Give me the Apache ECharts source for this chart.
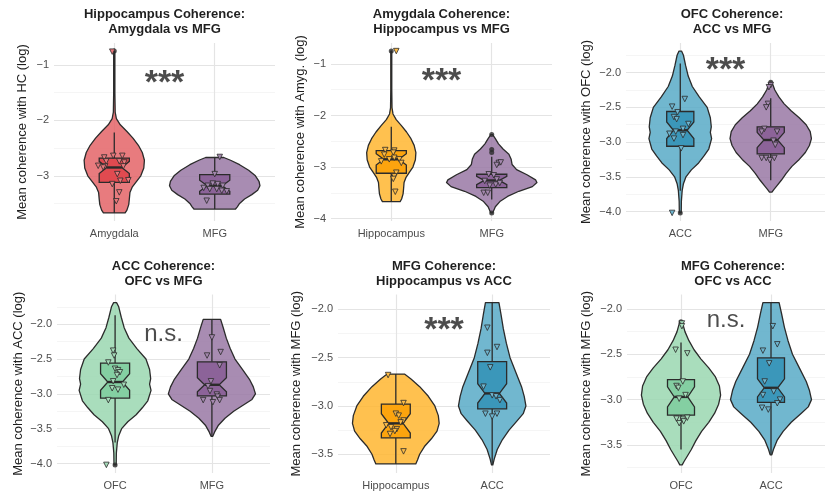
<!DOCTYPE html>
<html><head><meta charset="utf-8">
<script src="https://cdn.jsdelivr.net/npm/echarts@6/dist/echarts.min.js"></script>
<style>html,body{margin:0;padding:0;background:#fff}#c{width:825px;height:492px}</style>
</head><body><div id="c"></div>
<script>
// ---------------- DATA ----------------
const titles = [
  'Hippocampus Coherence:\nAmygdala vs MFG',
  'Amygdala Coherence:\nHippocampus vs MFG',
  'OFC Coherence:\nACC vs MFG',
  'ACC Coherence:\nOFC vs MFG',
  'MFG Coherence:\nHippocampus vs ACC',
  'MFG Coherence:\nOFC vs ACC'
];
const yNames = [
  'Mean coherence with HC (log)',
  'Mean coherence with Amyg. (log)',
  'Mean coherence with OFC (log)',
  'Mean coherence with ACC (log)',
  'Mean coherence with MFG (log)',
  'Mean coherence with MFG (log)'
];
const categories = [
  ['Amygdala', 'MFG'], ['Hippocampus', 'MFG'], ['ACC', 'MFG'],
  ['OFC', 'MFG'], ['Hippocampus', 'ACC'], ['OFC', 'ACC']
];
const yTicks = [
  [-3, -2, -1], [-4, -3, -2, -1], [-4, -3.5, -3, -2.5, -2],
  [-4, -3.5, -3, -2.5, -2], [-3.5, -3, -2.5, -2], [-3.5, -3, -2.5, -2]
];
const yMinor = [
  [-3.5, -2.5, -1.5], [-3.5, -2.5, -1.5], [-3.75, -3.25, -2.75, -2.25, -1.75],
  [-3.75, -3.25, -2.75, -2.25, -1.75], [-3.25, -2.75, -2.25], [-3.75, -3.25, -2.75, -2.25]
];
const sigLabels = ['***', '***', '***', 'n.s.', '***', 'n.s.'];
const sigValues = [-1.25, -1.25, -1.9, -2.14, -2.165, -2.13];

// violin outlines: [value, relative half-width]
const violinHcAmyg = [[-0.75,0.02],[-1.0,0.02],[-1.5,0.02],[-1.85,0.03],[-1.97,0.07],[-2.08,0.2],[-2.2,0.42],[-2.32,0.62],[-2.45,0.8],[-2.58,0.93],[-2.72,1.0],[-2.86,0.98],[-3.0,0.88],[-3.1,0.74],[-3.2,0.6],[-3.3,0.52],[-3.42,0.5],[-3.52,0.48],[-3.62,0.42],[-3.67,0.36]];
const violinHcMfg = [[-2.67,0.2],[-2.72,0.35],[-2.8,0.55],[-2.9,0.75],[-3.0,0.9],[-3.1,0.98],[-3.18,1.0],[-3.26,0.95],[-3.34,0.82],[-3.42,0.66],[-3.5,0.55],[-3.56,0.5],[-3.6,0.46]];
const violinAmygMfg = [[-2.37,0.02],[-2.45,0.08],[-2.55,0.15],[-2.65,0.25],[-2.75,0.38],[-2.85,0.43],[-2.95,0.45],[-3.05,0.55],[-3.15,0.78],[-3.25,0.97],[-3.3,1.0],[-3.38,0.9],[-3.47,0.6],[-3.57,0.35],[-3.67,0.18],[-3.77,0.08],[-3.89,0.02]];
const violinOfcAcc = [[-1.69,0.04],[-1.75,0.1],[-1.9,0.17],[-2.05,0.25],[-2.2,0.38],[-2.35,0.6],[-2.5,0.85],[-2.65,0.95],[-2.78,0.98],[-2.86,0.95],[-2.95,0.99],[-3.1,0.9],[-3.2,0.75],[-3.3,0.58],[-3.4,0.35],[-3.5,0.18],[-3.6,0.1],[-3.7,0.06],[-3.85,0.035],[-4.02,0.03]];
const violinOfcMfg = [[-2.14,0.03],[-2.25,0.1],[-2.35,0.2],[-2.45,0.33],[-2.55,0.5],[-2.65,0.7],[-2.75,0.87],[-2.85,0.97],[-2.95,1.0],[-3.05,0.95],[-3.15,0.85],[-3.25,0.7],[-3.35,0.52],[-3.45,0.38],[-3.55,0.26],[-3.63,0.15],[-3.68,0.08],[-3.72,0.03]];
const violinAccMfg = [[-1.93,0.2],[-2.05,0.26],[-2.2,0.33],[-2.35,0.42],[-2.5,0.53],[-2.65,0.7],[-2.8,0.87],[-2.9,0.95],[-3.0,1.0],[-3.08,0.92],[-3.15,0.75],[-3.25,0.5],[-3.35,0.3],[-3.45,0.15],[-3.55,0.06],[-3.61,0.02]];

// box stats: [whiskerLo, q1, notchLo, median, notchHi, q3, whiskerHi]
const boxHcAmyg = [-3.67, -3.12, -2.96, -2.85, -2.74, -2.68, -2.22];
const boxHcMfg = [-3.6, -3.33, -3.28, -3.18, -3.08, -2.98, -2.67];
const boxAmygMfg = [-3.63, -3.4, -3.34, -3.26, -3.18, -3.14, -2.8];
const boxOfcAcc = [-3.7, -3.06, -2.95, -2.83, -2.71, -2.56, -1.87];
const boxOfcMfg = [-3.55, -3.17, -3.08, -2.97, -2.86, -2.78, -2.37];
const boxAccMfg = [-3.61, -3.03, -2.97, -2.87, -2.77, -2.54, -1.93];

// outliers
const outHcAmyg = [-0.75];
const outHcMfg = [];
const outAmygMfg = [-2.37, -2.66, -2.72, -3.89];
const outOfcAcc = [-4.02];
const outOfcMfg = [-2.14];
const outAccMfg = [];

// jittered points per panel: [offset, value]
const pts1a = [[-0.02,-0.76],[-0.01,-2.64],[0.08,-2.64],[-0.1,-2.67],[-0.08,-2.74],[0.05,-2.74],[0.1,-2.76],[-0.16,-2.82],[-0.09,-2.83],[-0.11,-2.85],[0.09,-2.83],[0.03,-2.97],[0.06,-3.09],[0.14,-3.08],[-0.02,-3.15],[0.05,-3.3],[0.02,-3.46]];
const pts1b = [[0.05,-2.66],[0.0,-2.97],[-0.07,-3.18],[-0.02,-3.14],[0.03,-3.15],[0.08,-3.18],[-0.05,-3.24],[0.02,-3.24],[0.07,-3.27],[0.12,-3.28],[-0.11,-3.22],[-0.08,-3.45]];
const pts2a = [[0.05,-0.75],[-0.06,-2.67],[0.03,-2.68],[0.02,-2.72],[-0.07,-2.76],[0.03,-2.82],[-0.02,-2.85],[-0.1,-2.89],[0.08,-2.85],[0.1,-2.92],[0.05,-3.11],[0.03,-3.18],[0.02,-3.23],[0.04,-3.48]];
const pts2b = [[0.07,-2.92],[0.05,-2.96],[0.09,-2.91],[-0.03,-3.14],[0.02,-3.16],[0.05,-3.24],[-0.07,-3.27],[-0.02,-3.36],[0.04,-3.34],[0.08,-3.31],[-0.08,-3.5],[-0.04,-3.5]];
const pts3a = [[-0.09,-2.49],[0.05,-2.38],[-0.03,-2.57],[-0.07,-2.64],[-0.04,-2.67],[0.09,-2.74],[0.03,-2.81],[-0.05,-2.85],[-0.12,-2.88],[0.03,-2.9],[-0.07,-2.95],[0.01,-3.09],[-0.09,-4.02]];
const pts3b = [[0.0,-2.18],[-0.02,-2.21],[-0.03,-2.45],[-0.05,-2.5],[-0.07,-2.81],[-0.1,-2.85],[0.07,-2.85],[0.03,-2.98],[0.05,-3.04],[-0.1,-3.23],[-0.05,-3.23],[-0.01,-3.26],[0.04,-3.23]];
const pts4a = [[-0.02,-2.38],[-0.01,-2.45],[-0.07,-2.55],[0.0,-2.64],[0.03,-2.66],[0.05,-2.69],[0.02,-2.73],[-0.02,-2.82],[0.09,-2.87],[0.03,-2.94],[-0.03,-2.92],[-0.07,-3.09],[-0.09,-4.02]];
const pts4b = [[0.0,-2.19],[-0.05,-2.45],[0.09,-2.4],[0.08,-2.59],[-0.01,-2.82],[-0.04,-2.89],[-0.02,-2.96],[0.05,-3.01],[0.06,-3.04],[0.08,-3.09],[-0.09,-3.09],[0.01,-3.12]];
const pts5a = [[-0.08,-2.68],[0.08,-2.97],[0.0,-3.08],[0.03,-3.1],[0.08,-3.15],[0.05,-3.17],[-0.1,-3.2],[-0.05,-3.22],[0.01,-3.24],[-0.01,-3.26],[-0.06,-3.29],[0.08,-3.47]];
const pts5b = [[-0.05,-2.19],[0.05,-2.39],[-0.05,-2.45],[-0.02,-2.6],[-0.09,-2.8],[0.0,-2.89],[0.04,-2.9],[0.08,-2.94],[-0.07,-3.08],[0.0,-3.11],[0.05,-3.08]];
const pts6a = [[0.01,-2.16],[0.01,-2.19],[-0.06,-2.45],[0.07,-2.49],[0.02,-2.8],[-0.05,-2.85],[-0.03,-2.87],[0.05,-2.95],[-0.02,-2.99],[-0.05,-3.21],[0.02,-3.22],[0.07,-3.2],[0.03,-3.24],[-0.02,-3.26]];
const pts6b = [[0.02,-2.19],[0.07,-2.39],[-0.09,-2.46],[-0.02,-2.6],[-0.07,-2.8],[0.03,-2.91],[-0.09,-2.95],[0.1,-3.0],[0.07,-3.04],[-0.1,-3.09],[-0.03,-3.11]];

// ---------------- STYLE / LAYOUT ----------------
const FONT = '"Liberation Sans", Arial, Helvetica, sans-serif';
const INK = '#2b2b2b';
const PAL = {
  red:    { violin: 'rgba(228,100,103,0.85)', box: '#E04A50', pt: '#E8777B' },
  orange: { violin: 'rgba(255,182,48,0.85)',  box: '#FCA40E', pt: '#FDBB45' },
  purple: { violin: 'rgba(153,120,164,0.85)', box: '#8C6399', pt: '#A487AE' },
  blue:   { violin: 'rgba(88,170,199,0.85)',  box: '#3B97BA', pt: '#6DB4CE' },
  green:  { violin: 'rgba(154,215,176,0.85)', box: '#84CFA2', pt: '#A5DBB9' }
};
const layout = [
  { left: 54,  top: 43,    width: 221, height: 178,   nameGap: 25.5, dec: 0, w: [0.30, 0.45],  titleTop: 7.5 },
  { left: 331, top: 43,    width: 221, height: 178,   nameGap: 24.5, dec: 0, w: [0.245, 0.45], titleTop: 7.5 },
  { left: 626, top: 43,    width: 212, height: 178,   nameGap: 32.8, dec: 1, w: [0.35, 0.45],  titleTop: 7.5 },
  { left: 57,  top: 294.5, width: 213, height: 178.5, nameGap: 32.2, dec: 1, w: [0.375, 0.45], titleTop: 259.5 },
  { left: 338, top: 294.5, width: 212, height: 178.5, nameGap: 34.8, dec: 1, w: [0.45, 0.35],  titleTop: 259.5 },
  { left: 627, top: 294.5, width: 212, height: 178.5, nameGap: 33.8, dec: 1, w: [0.44, 0.45],  titleTop: 259.5 }
];
const panelGroups = [
  [[violinHcAmyg, boxHcAmyg, outHcAmyg, pts1a, 'red'],    [violinHcMfg, boxHcMfg, outHcMfg, pts1b, 'purple']],
  [[violinHcAmyg, boxHcAmyg, outHcAmyg, pts2a, 'orange'], [violinAmygMfg, boxAmygMfg, outAmygMfg, pts2b, 'purple']],
  [[violinOfcAcc, boxOfcAcc, outOfcAcc, pts3a, 'blue'],   [violinOfcMfg, boxOfcMfg, outOfcMfg, pts3b, 'purple']],
  [[violinOfcAcc, boxOfcAcc, outOfcAcc, pts4a, 'green'],  [violinAccMfg, boxAccMfg, outAccMfg, pts4b, 'purple']],
  [[violinHcMfg, boxHcMfg, outHcMfg, pts5a, 'orange'],    [violinAccMfg, boxAccMfg, outAccMfg, pts5b, 'blue']],
  [[violinOfcMfg, boxOfcMfg, outOfcMfg, pts6a, 'green'],  [violinAccMfg, boxAccMfg, outAccMfg, pts6b, 'blue']]
];
const BOX_HW = 0.15, NOTCH_HW = 0.075, LW = 1.3;

function fmtTick(v, dec) {
  const s = Math.abs(v).toFixed(dec);
  return (v < 0 ? '\u2212' : '') + s;
}

const grids = [], xAxes = [], yAxes = [], series = [], titleComps = [];

panelGroups.forEach((groups, i) => {
  const L = layout[i];
  let lo = Infinity, hi = -Infinity;
  groups.forEach(g => {
    g[0].forEach(p => { lo = Math.min(lo, p[0]); hi = Math.max(hi, p[0]); });
    g[2].forEach(v => { lo = Math.min(lo, v); hi = Math.max(hi, v); });
    g[3].forEach(p => { lo = Math.min(lo, p[1]); hi = Math.max(hi, p[1]); });
  });
  const pad = 0.05 * (hi - lo);
  const ymin = lo - pad, ymax = hi + pad;

  grids.push({ left: L.left, top: L.top, width: L.width, height: L.height, containLabel: false });
  titleComps.push({
    text: titles[i], left: L.left + L.width / 2, top: L.titleTop, textAlign: 'center', padding: 0,
    textStyle: { fontSize: 13, fontWeight: 'bold', color: '#1f1f1f', fontFamily: FONT, lineHeight: 14.5 }
  });
  const cats = categories[i];
  xAxes.push({
    gridIndex: i, type: 'value', min: 0.4, max: 2.6,
    axisLine: { show: false }, axisTick: { show: false }, splitLine: { show: false },
    axisLabel: { customValues: [1, 2], formatter: v => cats[Math.round(v) - 1] || '',
      color: '#4d4d4d', fontSize: 11, fontFamily: FONT, margin: 7 }
  });
  yAxes.push({
    gridIndex: i, type: 'value', min: ymin, max: ymax,
    name: yNames[i], nameLocation: 'middle', nameRotate: 90, nameGap: L.nameGap,
    nameTextStyle: { fontSize: 13, color: '#1f1f1f', fontFamily: FONT },
    axisLine: { show: false }, axisTick: { show: false }, splitLine: { show: false },
    axisLabel: { customValues: yTicks[i], formatter: v => fmtTick(v, L.dec),
      color: '#4d4d4d', fontSize: 11, fontFamily: FONT, margin: 5 }
  });

  const ml = [];
  yMinor[i].forEach(v => ml.push({ yAxis: v, lineStyle: { color: '#f0f0f0', width: 0.7, type: 'solid' } }));
  yTicks[i].forEach(v => ml.push({ yAxis: v, lineStyle: { color: '#e4e4e4', width: 1.2, type: 'solid' } }));
  [1, 2].forEach(v => ml.push({ xAxis: v, lineStyle: { color: '#e4e4e4', width: 1.2, type: 'solid' } }));
  series.push({
    type: 'scatter', xAxisIndex: i, yAxisIndex: i, data: [], z: 0, silent: true,
    markLine: { silent: true, z: 0, symbol: 'none', label: { show: false }, animation: false, data: ml }
  });

  groups.forEach((g, k) => {
    const [prof, box, outs, pts, colName] = g;
    const col = PAL[colName];
    const xc = k + 1;
    const wmax = L.w[k];
    series.push({
      type: 'custom', xAxisIndex: i, yAxisIndex: i, z: 2, silent: true, animation: false,
      data: [[xc]],
      renderItem: (params, api) => {
        const right = prof.map(p => api.coord([xc + p[1] * wmax, p[0]]));
        const left = prof.slice().reverse().map(p => api.coord([xc - p[1] * wmax, p[0]]));
        return { type: 'polygon', shape: { points: right.concat(left) },
          style: { fill: col.violin, stroke: INK, lineWidth: LW, lineJoin: 'round' } };
      }
    });
    series.push({
      type: 'custom', xAxisIndex: i, yAxisIndex: i, z: 3, silent: true, animation: false,
      data: [[xc]],
      renderItem: (params, api) => {
        const [wLo, q1, nLo, med, nHi, q3, wHi] = box;
        const c = (dx, v) => api.coord([xc + dx, v]);
        const poly = [c(-BOX_HW, q3), c(BOX_HW, q3), c(BOX_HW, nHi), c(NOTCH_HW, med), c(BOX_HW, nLo),
          c(BOX_HW, q1), c(-BOX_HW, q1), c(-BOX_HW, nLo), c(-NOTCH_HW, med), c(-BOX_HW, nHi)];
        const a = c(0, q3), b = c(0, wHi), d = c(0, q1), e = c(0, wLo);
        const m1 = c(-NOTCH_HW, med), m2 = c(NOTCH_HW, med);
        return { type: 'group', children: [
          { type: 'line', shape: { x1: a[0], y1: a[1], x2: b[0], y2: b[1] }, style: { stroke: INK, lineWidth: LW } },
          { type: 'line', shape: { x1: d[0], y1: d[1], x2: e[0], y2: e[1] }, style: { stroke: INK, lineWidth: LW } },
          { type: 'polygon', shape: { points: poly }, style: { fill: col.box, stroke: INK, lineWidth: LW } },
          { type: 'line', shape: { x1: m1[0], y1: m1[1], x2: m2[0], y2: m2[1] }, style: { stroke: INK, lineWidth: 2.4 } }
        ] };
      }
    });
    series.push({
      type: 'scatter', xAxisIndex: i, yAxisIndex: i, z: 4, silent: true, animation: false,
      symbol: 'circle', symbolSize: 5, itemStyle: { color: INK },
      data: outs.map(v => [xc, v])
    });
    series.push({
      type: 'scatter', xAxisIndex: i, yAxisIndex: i, z: 5, silent: true, animation: false,
      symbol: 'triangle', symbolRotate: 180, symbolSize: 5.5,
      itemStyle: { color: col.pt, borderColor: INK, borderWidth: 0.8, opacity: 1 },
      data: pts.map(p => [xc + p[0], p[1]])
    });
  });

  const isStar = sigLabels[i] === '***';
  series.push({
    type: 'scatter', xAxisIndex: i, yAxisIndex: i, z: 6, silent: true, animation: false,
    symbolSize: 1, itemStyle: { color: 'rgba(0,0,0,0)' },
    data: [[1.5, sigValues[i]]],
    label: { show: true, position: 'inside', formatter: sigLabels[i],
      fontSize: isStar ? 34 : 24, fontWeight: isStar ? 'bold' : 'normal',
      color: '#1f1f1f', fontFamily: FONT,
      offset: isStar ? [0, 5] : [0, 0] }
  });
});

const chart = echarts.init(document.getElementById('c'), null, { renderer: 'canvas' });
chart.setOption({
  animation: false, backgroundColor: '#ffffff',
  title: titleComps, grid: grids, xAxis: xAxes, yAxis: yAxes, series: series
});
</script></body></html>
